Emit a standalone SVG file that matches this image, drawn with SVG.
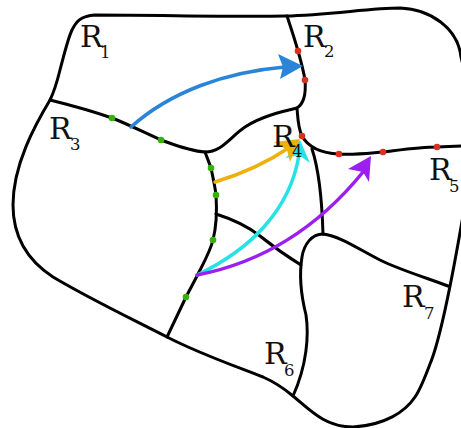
<svg xmlns="http://www.w3.org/2000/svg" width="461" height="428" viewBox="0 0 461 428">
<style>
.b{fill:none;stroke:#000;stroke-width:3;stroke-linecap:round;stroke-linejoin:round}
.a{fill:none;stroke-width:3.5;stroke-linecap:round}
.r{fill:#d9301f}.g{fill:#35b20a}
text{font-family:"DejaVu Serif",serif;fill:#111}
.m{font-size:30px}.s{font-size:16.5px}
</style>
<rect width="461" height="428" fill="#fff"/>
<g id="connectors">
<g id="borders">
<path class="b" d="M50 100C54 92 57 82 60 70C64 55 68 38 72 30C76 22 80 16 95 15C160 15 230 17 285 16C330 15 370 8 400 8C430 9 458 28 461 57C470 90 472 170 461 227C450 290 440 340 430 364C424 380 420 390 415 397C405 412 385 425 353 427C325 427 310 410 293 396C280 385 272 381 263 377C235 366 200 354 167 337C130 318 90 299 53 277C30 262 13 240 13 205C13 165 35 125 50 100Z"/>
<path class="b" d="M50 100C70 105 95 112 112 118C130 125 145 133 161 140C175 145 190 151 205 152C222 152 230 137 245 127C260 117 280 112 297 108C305 103 306 92 305 80C303 68 300 58 298 51C295 40 291 28 287 16"/>
<path class="b" d="M297 108C298 120 298 128 302 136C307 145 318 153 339 154C355 155 370 153 383 152C400 150 420 147 437 147L462 146"/>
<path class="b" d="M312 149C319 170 322 200 323 234"/>
<path class="b" d="M205 152C208 160 210 165 211 168C213 178 215 186 216 195C217 210 216 228 213 240C210 252 204 262 197 276L186 297L167 337"/>
<path class="b" d="M216 214C235 220 250 228 260 236C275 248 288 257 301 265"/>
<path class="b" d="M323 234C312 234 304 244 302 257C299 275 301 295 306 315C309 335 307 365 293 396"/>
<path class="b" d="M323 234C340 236 360 250 380 260C400 270 430 279 448 286"/>
</g>
<g id="arrows">
<path class="a" stroke="#2a84d8" d="M131 127C170 92 225 72 285 67"/>
<path fill="#2a84d8" d="M303 66L278 54L283 67L280 79Z"/>
<path class="a" stroke="#25e2e6" d="M197 275C250 250 290 210 299 155"/>
<path fill="#25e2e6" d="M300 140L286 158L299 155L310 163Z"/>
<path class="a" stroke="#eeb10c" d="M215 182C245 173 268 162 290 147"/>
<path fill="#eeb10c" d="M300 139L274 142L287 150L290 162Z"/>
<path class="a" stroke="#9a1ff0" d="M197 275C265 262 320 225 363 172"/>
<path fill="#9a1ff0" d="M371 156L348 169L363 172L369 182Z"/>
</g>
</g>
<g id="dots">
<circle class="g" cx="112" cy="118" r="3.3"/><circle class="g" cx="161" cy="140" r="3.3"/><circle class="g" cx="211" cy="168" r="3.3"/><circle class="g" cx="216" cy="195" r="3.3"/><circle class="g" cx="213" cy="240" r="3.3"/><circle class="g" cx="186" cy="297" r="3.3"/>
<circle class="r" cx="298" cy="51" r="3.3"/><circle class="r" cx="305" cy="80" r="3.3"/><circle class="r" cx="302" cy="136" r="3.3"/><circle class="r" cx="339" cy="154" r="3.3"/><circle class="r" cx="383" cy="152" r="3.3"/><circle class="r" cx="437" cy="147" r="3.3"/>
</g>
<g id="R1"><text class="m" x="80" y="47">R</text><text class="s" x="100" y="58">1</text></g>
<g id="R2"><text class="m" x="303" y="47">R</text><text class="s" x="324" y="57">2</text></g>
<g id="R3"><text class="m" x="49" y="139">R</text><text class="s" x="70" y="150">3</text></g>
<g id="R4"><text class="m" x="272" y="147">R</text><text class="s" x="292" y="157">4</text></g>
<g id="R5"><text class="m" x="429" y="180">R</text><text class="s" x="449" y="192">5</text></g>
<g id="R6"><text class="m" x="264" y="364">R</text><text class="s" x="284" y="376">6</text></g>
<g id="R7"><text class="m" x="402" y="307">R</text><text class="s" x="424" y="319">7</text></g>
</svg>
